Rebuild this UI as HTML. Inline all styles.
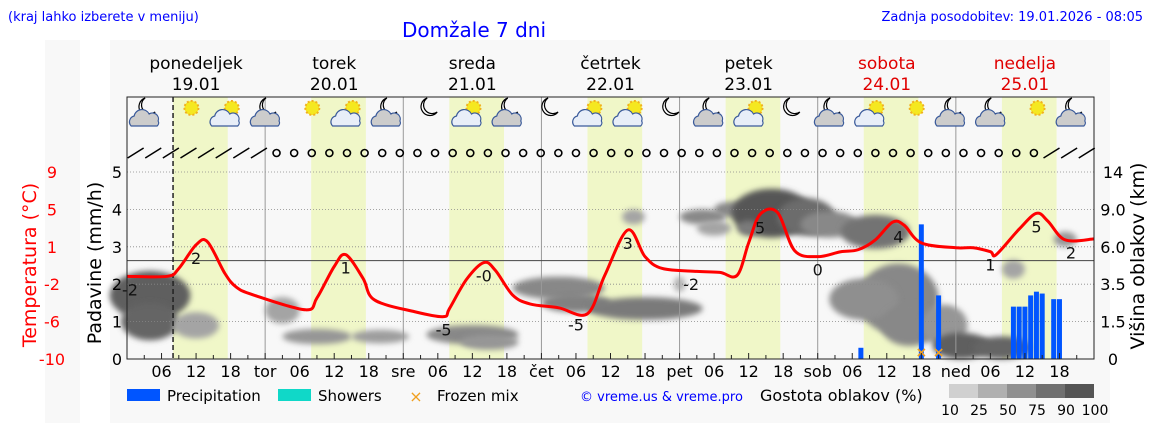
<!DOCTYPE html>
<html><head><meta charset="utf-8"><style>
body{margin:0;background:#fff;width:1152px;height:443px;overflow:hidden}
svg text{font-family:"DejaVu Sans","Liberation Sans",sans-serif}
</style></head><body>
<svg id="c" width="1152" height="443" xmlns="http://www.w3.org/2000/svg">
<defs><filter id="bl" x="-50%" y="-50%" width="200%" height="200%"><feGaussianBlur stdDeviation="3"/></filter></defs>
<rect x="45" y="40" width="35" height="383" fill="#f8f8f8"/>
<rect x="110" y="40" width="1000" height="383" fill="#f8f8f8"/>
<text x="8" y="21" font-size="13" fill="#0000ff">(kraj lahko izberete v meniju)</text>
<text x="474" y="37" font-size="20" fill="#0000ff" text-anchor="middle">Domžale 7 dni</text>
<text x="1143" y="21" font-size="13" fill="#0000ff" text-anchor="end">Zadnja posodobitev: 19.01.2026 - 08:05</text>
<g id="g"></g>
</svg>
<script>
const dayNames=["ponedeljek","torek","sreda","četrtek","petek","sobota","nedelja"];
const dayDates=["19.01","20.01","21.01","22.01","23.01","24.01","25.01"];
const dayAbbr=["tor","sre","čet","pet","sob","ned"];
const tempHours=[0,7,9,12,14,17,19,22,31,33,36,38,41,43,50,55,56,59,62,64,67,70,75,80,83,87,90,93,99,103,106,108,110,113,116,120,124,127,130,133,135,138,144,147,150,151,155,158,160,163,168];
const tempValues=[-1.6,-1.6,-0.8,1.6,1.9,-1.3,-2.7,-3.5,-5.0,-3.8,-0.6,0.6,-1.8,-4.0,-5.2,-5.7,-4.9,-1.9,-0.2,-1.0,-3.5,-4.4,-4.8,-5.4,-1.5,3.1,0.4,-0.8,-1.1,-1.2,-1.5,1.8,4.7,4.9,1.0,0.4,0.9,1.1,2.1,3.9,3.6,1.8,1.3,1.3,0.9,0.6,3.2,4.8,4.0,2.1,2.2];
const tempLabelHours=[0,12,38,55,62,78,87,98,110,120,134,150,158,164];
const tempLabels=["-2","2","1","-5","-0","-5","3","-2","5","0","4","1","5","2"];
const precipHours=[127.5,138,141,154,155,156,157,158,159,161,162];
const precipValues=[0.3,3.6,1.7,1.4,1.4,1.4,1.7,1.8,1.75,1.6,1.6];
const frozenHours=[138,141];
const precipTicks=[0,1,2,3,4,5];
const tempTicks=["9","5","1","-2","-6","-10"];
const cloudTicks=["14","9.0","6.0","3.5","1.5","0"];
const cloudHour=[4,4,12,27,33,44,60,63,75,78,90,88,100,102,105,112,118,122,130,134,128,136,142,145,152,154,163,96,108];
const cloudLevel=[1.7,1.0,0.9,1.3,0.6,0.6,0.65,0.45,1.9,1.5,1.35,3.8,3.8,3.5,4.0,3.9,3.8,3.6,3.4,1.6,1.6,0.9,0.9,0.35,0.3,2.4,3.2,2.0,3.5];
const cloudWidth=[14,10,8,6,12,10,16,10,16,12,20,4,8,6,6,14,10,10,12,14,12,10,8,10,10,4,4,2,4];
const cloudLevelH=[1.2,0.9,0.6,0.6,0.3,0.25,0.4,0.3,0.5,0.4,0.5,0.3,0.3,0.3,0.3,1.2,0.9,0.6,0.8,1.8,1.0,1.0,1.0,0.6,0.5,0.4,0.3,0.3,0.3];
const cloudDens=[0.9,0.85,0.4,0.4,0.5,0.45,0.6,0.5,0.6,0.65,0.7,0.4,0.6,0.4,0.6,0.95,0.8,0.6,0.75,0.6,0.55,0.6,0.5,0.9,0.85,0.4,0.5,0.3,0.7];
const legendVals=["10","25","50","75","90","100"];

const NS="http://www.w3.org/2000/svg";
const X0=127,X1=1094,Y0=359,Y5=172;
const xh=h=>X0+h*(X1-X0)/168;
const yp=v=>Y0-v*(Y0-Y5)/5;
const yt=t=>Y0-(t+10)*(Y0-Y5)/19;
const g=document.getElementById('g');
function mk(tag,attrs,txt){const e=document.createElementNS(NS,tag);for(const k in attrs)e.setAttribute(k,attrs[k]);if(txt!==undefined)e.textContent=txt;g.appendChild(e);return e;}

for(let d=0;d<7;d++){const r=mk('rect',{x:xh(24*d+8),y:97,width:xh(17.5)-xh(8),height:Y0-97,fill:'#f0f7c8'});

}
for(let i=0;i<cloudHour.length;i++){const gr=Math.round(220-cloudDens[i]*140);
const e=mk('ellipse',{cx:xh(cloudHour[i]),cy:yp(cloudLevel[i]),rx:xh(cloudWidth[i]/2)-X0,ry:(Y0-yp(cloudLevelH[i]))/2+2,fill:`rgb(${gr},${gr},${gr})`,filter:'url(#bl)'});

}
for(let v=1;v<=5;v++){const l=mk('line',{x1:X0,x2:X1,y1:yp(v),y2:yp(v),stroke:'#888','stroke-dasharray':'1,2','stroke-width':0.8});

}
for(let d=1;d<7;d++){const l=mk('line',{x1:xh(24*d),x2:xh(24*d),y1:97,y2:Y0,stroke:'#999','stroke-width':1});

}
const zl=mk('line',{x1:X0,x2:X1,y1:yt(0),y2:yt(0),stroke:'#444','stroke-width':1});


const nl=mk('line',{x1:xh(8),x2:xh(8),y1:97,y2:Y0,stroke:'#222','stroke-width':1.5,'stroke-dasharray':'5,3'});


for(let i=0;i<precipHours.length;i++){const b=mk('rect',{x:xh(precipHours[i])-2.5,y:yp(precipValues[i]),width:5,height:Y0-yp(precipValues[i]),fill:'#0055ff'});

}
for(const h of frozenHours){const t=mk('text',{x:xh(h),y:Y0-2,'font-size':14,fill:'#f0a020','text-anchor':'middle','font-weight':'bold'},'×');

}
// smooth temperature line (Catmull-Rom)
const P=tempHours.map((h,i)=>[xh(h),yt(tempValues[i])]);
let d='M'+P[0][0]+','+P[0][1];
for(let i=0;i<P.length-1;i++){const p0=P[Math.max(0,i-1)],p1=P[i],p2=P[i+1],p3=P[Math.min(P.length-1,i+2)];
const c1=[p1[0]+(p2[0]-p0[0])/6,p1[1]+(p2[1]-p0[1])/6],c2=[p2[0]-(p3[0]-p1[0])/6,p2[1]-(p3[1]-p1[1])/6];
d+=` C${c1[0]},${c1[1]} ${c2[0]},${c2[1]} ${p2[0]},${p2[1]}`;}
const pl=mk('path',{d:d,fill:'none',stroke:'#ff0000','stroke-width':3,'stroke-linejoin':'round'});


for(let i=0;i<tempLabels.length;i++){const h=tempLabelHours[i];let k=0;while(k<tempHours.length-1&&tempHours[k+1]<h)k++;
const f=(h-tempHours[k])/((tempHours[k+1]-tempHours[k])||1);const t=tempValues[k]+(tempValues[k+1]-tempValues[k])*Math.min(1,Math.max(0,f));
const e=mk('text',{x:xh(h)+(i==0?3:0),y:yt(t)+19,'font-size':16,fill:'#111','text-anchor':'middle'},tempLabels[i]);

}
const fr=mk('rect',{x:X0,y:97,width:X1-X0,height:Y0-97,fill:'none',stroke:'#222','stroke-width':1});


for(let i=0;i<24;i++){const h=3.5+i*7;const hr=h%24;const day=hr>=7&&hr<=18;const cx=xh(h);
if(day){const s=mk('circle',{cx:cx+4,cy:108,r:7,fill:'#f5e820',stroke:'#f0b020','stroke-width':2,'stroke-dasharray':'2,2'});

}
else{const m=mk('path',{d:`M${cx-2},98 a9,9 0 1,0 10,14 a8,8 0 0,1 -10,-14z`,fill:'#fff',stroke:'#000','stroke-width':1.2});

}
if(i%3!=1){const c=mk('path',{d:`M${cx-16},126 a6,6 0 0,1 3,-10 a8,8 0 0,1 15,-2 a6,6 0 0,1 9,7 a4,4 0 0,1 -1,5 z`,fill:day?'#e8eef8':'#ccc',stroke:'#3a5a9a','stroke-width':1.2});

}}
for(let i=0;i<55;i++){const h=1.5+i*3.06;const x=xh(h);
if(i<8||i>51){const l=mk('line',{x1:x-8,y1:158,x2:x+8,y2:148,stroke:'#000','stroke-width':1.5});

}
else{const c=mk('circle',{cx:x,cy:153,r:3.5,fill:'none',stroke:'#000','stroke-width':1.6});

}}
for(let dd=0;dd<7;dd++){const col=dd>=5?'#e00000':'#000';
const a=mk('text',{x:xh(24*dd+12),y:69,'font-size':17,fill:col,'text-anchor':'middle'},dayNames[dd]);


const b=mk('text',{x:xh(24*dd+12),y:90,'font-size':17,fill:col,'text-anchor':'middle'},dayDates[dd]);

}
for(let h=3;h<168;h+=3){const t=mk('line',{x1:xh(h),x2:xh(h),y1:Y0,y2:Y0-(h%6==0?6:4),stroke:'#222'});

}
for(let dd=0;dd<7;dd++){for(const hh of [6,12,18]){const e=mk('text',{x:xh(24*dd+hh),y:377,'font-size':16,fill:'#000','text-anchor':'middle'},String(hh).padStart(2,'0'));

}
if(dd>0){const e=mk('text',{x:xh(24*dd),y:377,'font-size':16,fill:'#000','text-anchor':'middle'},dayAbbr[dd-1]);

}}
for(let i=0;i<6;i++){const v=precipTicks[i];
const e=mk('text',{x:117,y:yp(v)+6,'font-size':16,fill:'#000','text-anchor':'middle'},String(v));


const t=mk('text',{x:52,y:yp(5-i)+6,'font-size':16,fill:'#ff0000','text-anchor':'middle'},tempTicks[i]);


const r=mk('text',{x:1113,y:yp(5-i)+6,'font-size':16,fill:'#000','text-anchor':'middle'},cloudTicks[i]);

}
const t1=mk('text',{x:0,y:0,'font-size':19,fill:'#ff0000','text-anchor':'middle',transform:'translate(36,265) rotate(-90)'},'Temperatura (°C)');


const t2=mk('text',{x:0,y:0,'font-size':19,fill:'#000','text-anchor':'middle',transform:'translate(101,263) rotate(-90)'},'Padavine (mm/h)');


const t3=mk('text',{x:0,y:0,'font-size':19,fill:'#000','text-anchor':'middle',transform:'translate(1144,256) rotate(-90)'},'Višina oblakov (km)');


const lr=mk('rect',{x:127,y:389,width:33,height:12,fill:'#0055ff'});


const lt=mk('text',{x:167,y:401,'font-size':15,fill:'#000'},'Precipitation');


const sr=mk('rect',{x:278,y:389,width:33,height:12,fill:'#10d8c8'});


const st=mk('text',{x:318,y:401,'font-size':15,fill:'#000'},'Showers');


const fx=mk('text',{x:416,y:402,'font-size':16,fill:'#f0a020','text-anchor':'middle'},'×');


const ft=mk('text',{x:437,y:401,'font-size':15,fill:'#000'},'Frozen mix');


const cp=mk('text',{x:580,y:401,'font-size':13,fill:'#0000ff'},'© vreme.us & vreme.pro');


const gt=mk('text',{x:760,y:401,'font-size':16,fill:'#000'},'Gostota oblakov (%)');


const shades=['#d0d0d0','#b0b0b0','#909090','#707070','#555555'];
for(let i=0;i<5;i++){const r=mk('rect',{x:949+i*29,y:384,width:29,height:14,fill:shades[i]});

}
for(let i=0;i<6;i++){const e=mk('text',{x:950+i*29,y:415,'font-size':14,fill:'#000','text-anchor':'middle'},legendVals[i]);

}
</script>
</body></html>
